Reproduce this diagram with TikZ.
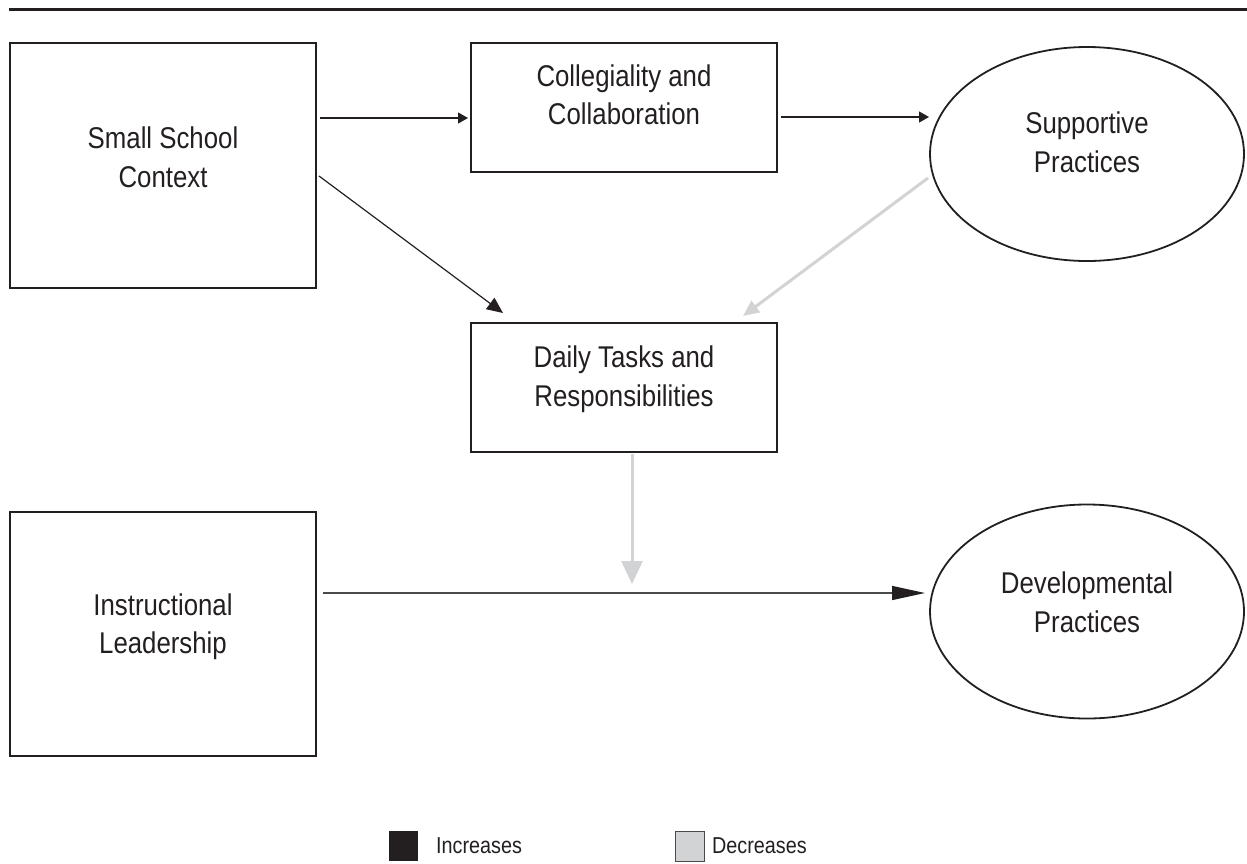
\documentclass[tikz,border=0pt]{standalone}
\usepackage{fontspec}
\setmainfont{Liberation Sans}[FakeStretch=0.86]
\usetikzlibrary{arrows.meta,shapes.geometric}
\definecolor{ink}{HTML}{231F20}
\definecolor{lgray}{HTML}{D1D3D4}
\definecolor{dgray}{HTML}{4A4A4A}
\begin{document}
\begin{tikzpicture}[x=1pt,y=-1pt,
  box/.style={draw=ink,line width=2pt,rectangle,inner sep=0pt},
  oval/.style={draw=ink,line width=1.8pt,ellipse,inner sep=0pt,minimum width=314pt,minimum height=214pt},
  lbl/.style={text=ink,align=center,font=\fontsize{30}{38.5}\selectfont,inner sep=0pt},
  lgd/.style={text=ink,font=\fontsize{23}{26}\selectfont,inner sep=0pt,anchor=west},
  incs/.style={draw=ink,line width=1.2pt,-{Triangle[length=10pt,width=11pt]}},
  incm/.style={draw=ink,line width=1.2pt,-{Triangle[length=16pt,width=14pt]}},
  incl/.style={draw=dgray,line width=1.4pt,-{Triangle[length=33pt,width=14pt,color=ink]}},
  decm/.style={draw=lgray,line width=3pt,-{Triangle[length=16pt,width=14pt]}},
  decl/.style={draw=lgray,line width=3pt,-{Triangle[length=23pt,width=21pt]}},
  sq/.style={minimum width=29pt,minimum height=30pt,inner sep=0pt}
]
\useasboundingbox (0,0) rectangle (1247,863);
% top rule
\coordinate (rl) at (9,9.5);
\coordinate (rr) at (1247,9.5);
\draw[ink,line width=2.5pt] (rl) -- (rr);

% shapes
\node[box,minimum width=306pt,minimum height=245pt] (ssc) at (163,165.5) {};
\node[box,minimum width=306pt,minimum height=129pt] (cc) at (624,107.5) {};
\node[oval] (sp) at (1087,154) {};
\node[box,minimum width=306pt,minimum height=129pt] (dt) at (624,387.5) {};
\node[box,minimum width=306pt,minimum height=244pt] (il) at (163,634) {};
\node[oval] (dp) at (1087,611.5) {};

% labels
\node[lbl] (sscT) at (163,157.5) {Small School\\Context};
\node[lbl] (ccT) at (624,95) {Collegiality and\\Collaboration};
\node[lbl] (spT) at (1087,142.5) {Supportive\\Practices};
\node[lbl] (dtT) at (624,379) {Daily Tasks and\\Responsibilities};
\node[lbl] (ilT) at (163,626.5) {Instructional\\Leadership};
\node[lbl] (dpT) at (1087,602.5) {Developmental\\Practices};

% connector end points
\coordinate (a1s) at (320,118);
\coordinate (a1e) at (468,118);
\coordinate (a2s) at (781,117);
\coordinate (a2e) at (929,117);
\coordinate (a3s) at (319,176);
\coordinate (a3e) at (503,313);
\coordinate (a4s) at (928,178);
\coordinate (a4e) at (743,316);
\coordinate (a5s) at (632,454);
\coordinate (a5e) at (632,584);
\coordinate (a6s) at (323,593);
\coordinate (a6e) at (925,593);

\draw[incs] (a1s) -- (a1e);
\draw[incs] (a2s) -- (a2e);
\draw[incm] (a3s) -- (a3e);
\draw[decm] (a4s) -- (a4e);
\draw[decl] (a5s) -- (a5e);
\draw[incl] (a6s) -- (a6e);

% legend
\node[sq,fill=ink] (incsq) at (403,846) {};
\node[lgd] (incT) at (436,846) {Increases};
\node[sq,fill=lgray,draw=dgray,line width=0.8pt] (decsq) at (689.5,846) {};
\node[lgd] (decT) at (712,846) {Decreases};
\end{tikzpicture}
\end{document}
